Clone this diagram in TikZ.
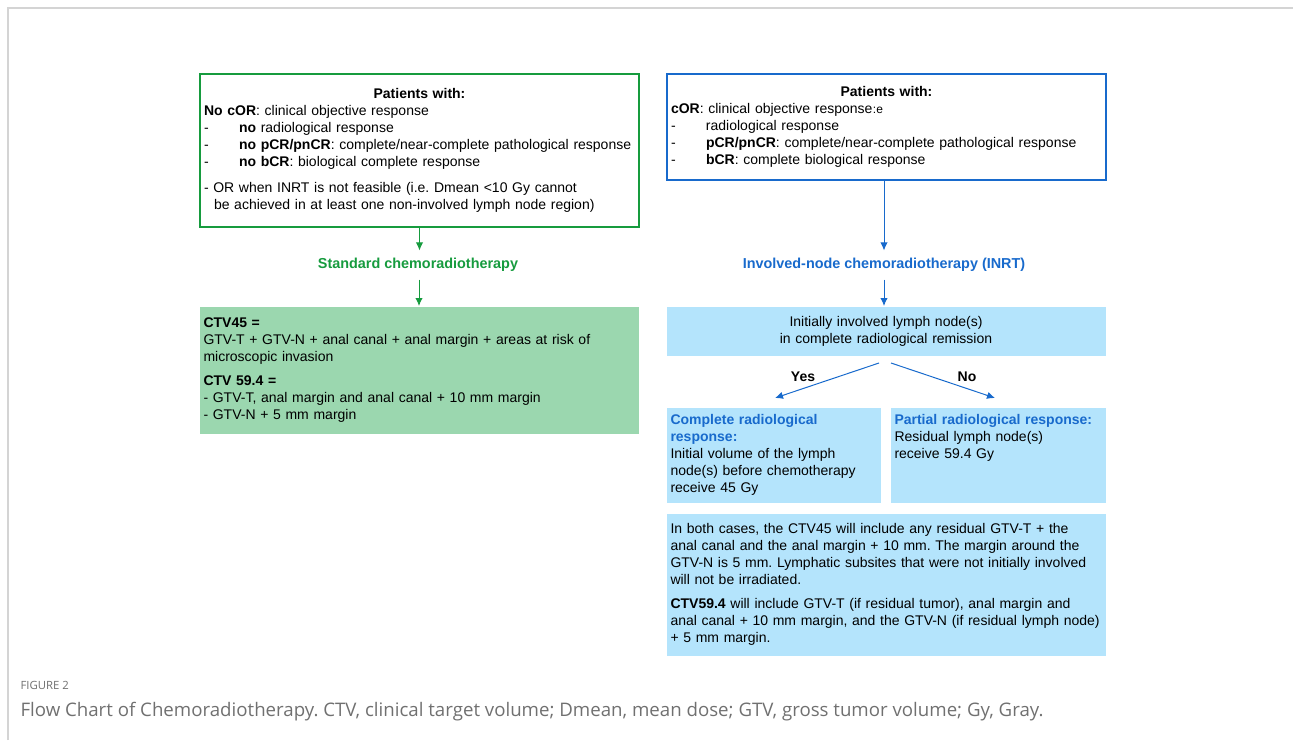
\documentclass[tikz,border=0pt]{standalone}
\usepackage{fontspec}
\setmainfont{Liberation Sans}
\newfontfamily\capfont{Open Sans}
\usetikzlibrary{arrows.meta}
\frenchspacing

\definecolor{stdgreen}{RGB}{22,155,62}
\definecolor{inrtblue}{RGB}{24,106,204}
\definecolor{greenfill}{RGB}{155,215,175}
\definecolor{bluefill}{RGB}{180,228,252}
\definecolor{framegray}{RGB}{212,212,212}
\definecolor{capgray}{RGB}{112,112,112}

\newcommand{\itemdash}{\makebox[26.25pt][l]{-}}

\tikzset{every picture/.style={line width=0.75pt}}
\tikzset{
  boxtext/.style={font=\fontsize{10.5}{12.75}\selectfont, inner sep=3pt, anchor=north west, align=left},
  widebox/.style={boxtext, text width=323.25pt},
  halfbox/.style={boxtext, text width=154.5pt, minimum height=71.25pt},
  steplabel/.style={font=\fontsize{10.8}{12}\selectfont\bfseries, inner sep=5.5pt},
  flowarrow/.style={-{Latex[length=6pt,width=5.5pt]}}
}

\begin{document}
\begin{tikzpicture}[x=0.75pt,y=0.75pt,yscale=-1,xscale=1]
	\useasboundingbox (0,0) rectangle (1293,740);
	% frame
	\draw [framegray, line width=1.2pt] (8,740) -- (8,8) -- (1293,8) ;

	% left column
	\node [widebox, draw=stdgreen, line width=1.5pt, minimum height=114.75pt] (nocor) at (199,73)
	{\makebox[\linewidth]{\textbf{Patients with:}}\\
	 \textbf{No cOR}: clinical objective response\\
	 \itemdash\textbf{no} radiological response\\
	 \itemdash\textbf{no pCR/pnCR}: complete/near-complete pathological response\\
	 \itemdash\textbf{no bCR}: biological complete response\\[7pt]
	 - OR when INRT is not feasible (i.e. Dmean <10 Gy cannot\\
	 \hspace*{7.5pt}be achieved in at least one non-involved lymph node region)};
	\node [steplabel, text=stdgreen] (standard) at (418,265) {Standard chemoradiotherapy};
	\node [widebox, fill=greenfill, minimum height=95.25pt] (ctvstd) at (199,306)
	{\textbf{CTV45 =}\\
	 GTV-T + GTV-N + anal canal + anal margin + areas at risk of\\
	 microscopic invasion\\[5.5pt]
	 \textbf{CTV 59.4 =}\\
	 - GTV-T, anal margin and anal canal + 10 mm margin\\
	 - GTV-N + 5 mm margin};

	% right column
	\node [widebox, draw=inrtblue, line width=1.5pt, minimum height=79.5pt] (cor) at (666,73)
	{\makebox[\linewidth]{\textbf{Patients with:}}\\
	 \textbf{cOR}: clinical objective response{\small\kern0.3pt:e}\\
	 \itemdash radiological response\\
	 \itemdash\textbf{pCR/pnCR}: complete/near-complete pathological response\\
	 \itemdash\textbf{bCR}: complete biological response};
	\node [steplabel, text=inrtblue] (inrt) at (884,265) {Involved-node chemoradiotherapy (INRT)};
	\node [widebox, fill=bluefill, minimum height=36.75pt, align=center] (remission) at (666,306)
	{Initially involved lymph node(s)\\in complete radiological remission};

	\coordinate (yesfrom) at (879,363);
	\coordinate (yesto) at (775,398);
	\coordinate (nofrom) at (891,363);
	\coordinate (noto) at (995,398);
	\node [font=\fontsize{10.5}{12}\selectfont\bfseries] (yes) at (803,377) {Yes};
	\node [font=\fontsize{10.5}{12}\selectfont\bfseries] (no) at (967,377) {No};

	\node [halfbox, fill=bluefill] (complete) at (666,407)
	{\textcolor{inrtblue}{\textbf{Complete radiological}}\\
	 \textcolor{inrtblue}{\textbf{response:}}\\
	 Initial volume of the lymph\\
	 node(s) before chemotherapy\\
	 receive 45 Gy};
	\node [halfbox, fill=bluefill, text width=155.25pt] (partial) at (890,407)
	{\parbox[c][65.25pt][t]{\linewidth}{\vspace*{2.5pt}\textcolor{inrtblue}{\textbf{Partial radiological response:}}\\
	 Residual lymph node(s)\\
	 receive 59.4 Gy}};
	\node [widebox, fill=bluefill, minimum height=106.5pt] (bothcases) at (666,513)
	{In both cases, the CTV45 will include any residual GTV-T + the\\
	 anal canal and the anal margin + 10 mm. The margin around the\\
	 GTV-N is 5 mm. Lymphatic subsites that were not initially involved\\
	 will not be irradiated.\\[5.5pt]
	 \textbf{CTV59.4} will include GTV-T (if residual tumor), anal margin and\\
	 anal canal + 10 mm margin, and the GTV-N (if residual lymph node)\\
	 + 5 mm margin.};

	% connectors
	\draw [flowarrow, stdgreen] (nocor.south) -- (nocor.south |- standard.north) ;
	\draw [flowarrow, stdgreen] (ctvstd.north |- standard.south) -- (ctvstd.north) ;
	\draw [flowarrow, inrtblue] (cor.south -| inrt.north) -- (inrt.north) ;
	\draw [flowarrow, inrtblue] (inrt.south) -- (remission.north -| inrt.south) ;
	\draw [flowarrow, inrtblue] (yesfrom) -- (yesto) ;
	\draw [flowarrow, inrtblue] (nofrom) -- (noto) ;

	% caption
	\node [anchor=west, inner sep=0pt, text=capgray, font=\capfont\fontsize{8.5}{10}\selectfont] (figno) at (20,685) {FIGURE 2};
	\node [anchor=west, inner sep=0pt, text=capgray, font=\capfont\fontsize{14}{16}\selectfont] (caption) at (20,712) {Flow Chart of Chemoradiotherapy. CTV, clinical target volume; Dmean, mean dose; GTV, gross tumor volume; Gy, Gray.};
\end{tikzpicture}
\end{document}
